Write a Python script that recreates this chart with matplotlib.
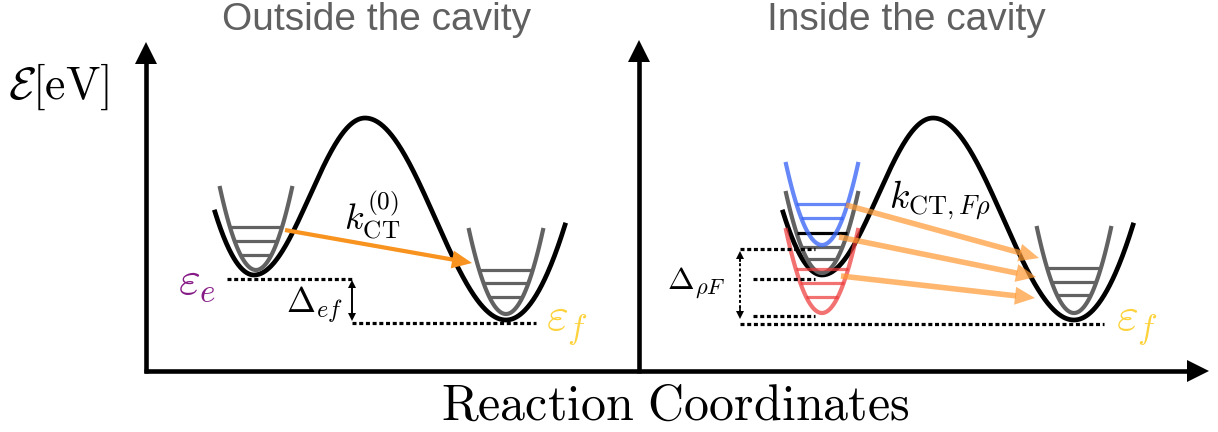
import numpy as np
import matplotlib
matplotlib.use('Agg')
import matplotlib.pyplot as plt
from matplotlib.patches import FancyArrowPatch, Polygon

plt.rcParams['mathtext.fontset'] = 'cm'

W, H = 1218, 432
PT = 0.72  # points per pixel at dpi 100

# turning points of the ground-state double well (x, y in px, y down)
pes_x = [215, 254, 365, 506, 565]
pes_y = [212, 275, 118, 320, 225]
cavity_shift = 568

# harmonic wells outside the cavity: centre, bottom, half width, depth
well_e = (256, 270, 36, 82)
well_e_levels = [227, 241, 255]
well_f = (506, 314, 37, 84)
well_f_levels = [270, 283, 297]

# polariton-shifted wells inside the cavity
well_up = (822, 245, 36, 81)
well_up_levels = [204, 218]
well_mid = (822, 273, 36, 80)
well_mid_levels = [233, 247, 259]
well_lp = (822, 313, 36, 83)
well_lp_levels = [269, 283, 297]
well_f2 = (1074, 313, 37, 85)
well_f2_levels = [268, 282, 295]

# rate arrows inside the cavity: start -> tip
rate_starts = [(846, 205), (839, 237), (841, 276)]
rate_tips = [(1039, 258), (1036, 277), (1035, 298)]

GREY = '#626262'
ORANGE = '#f7931e'


def pes(xs, ys, n=500):
    x = np.linspace(xs[0], xs[-1], n)
    y = np.empty_like(x)
    kl = (ys[1] - ys[0]) / (xs[1] - xs[0]) ** 2
    kr = (ys[3] - ys[4]) / (xs[4] - xs[3]) ** 2
    for i, xi in enumerate(x):
        if xi <= xs[1]:
            y[i] = ys[1] - kl * (xi - xs[1]) ** 2
        elif xi >= xs[3]:
            y[i] = ys[3] - kr * (xi - xs[3]) ** 2
        else:
            j = 1 if xi < xs[2] else 2
            t = (xi - xs[j]) / (xs[j + 1] - xs[j])
            y[i] = ys[j] + (ys[j + 1] - ys[j]) * (1 - np.cos(np.pi * t)) / 2
    return x, y


def well(ax, w, levels, color, alpha=1.0, z=3, level_colors=None):
    x0, y0, hw, depth = w
    x = np.linspace(x0 - hw, x0 + hw, 120)
    y = y0 - depth * ((x - x0) / hw) ** 2
    ax.plot(x, y, color=color, lw=3.0, alpha=alpha, zorder=z)
    for i, lv in enumerate(levels):
        half = hw * np.sqrt((y0 - lv) / depth)
        c = color if level_colors is None else level_colors[i]
        ax.plot([x0 - half, x0 + half], [lv, lv], color=c, lw=2.3,
                alpha=alpha, zorder=z, solid_capstyle='butt')


def arrow(ax, p0, p1, color='k', lw=3.0, hl=20, hw=10, alpha=1.0, z=5):
    # shaft stops at the head base so translucent arrows stay even
    p0, p1 = np.array(p0, float), np.array(p1, float)
    d = p1 - p0
    u = d / np.hypot(*d)
    n = np.array([-u[1], u[0]])
    base = p1 - u * hl
    ax.plot([p0[0], base[0] + u[0]], [p0[1], base[1] + u[1]], color=color,
            lw=lw, alpha=alpha, zorder=z, solid_capstyle='butt')
    head = Polygon([p1, base + n * hw, base - n * hw], closed=True,
                   facecolor=color, edgecolor='none', alpha=alpha, zorder=z)
    ax.add_patch(head)


def dotted(ax, xs, ys):
    ax.plot(xs, ys, color='k', lw=2.3, ls=(0, (1.25, 0.85)), zorder=4)


fig = plt.figure(figsize=(W / 100, H / 100), dpi=100)
ax = fig.add_axes([0, 0, 1, 1])
ax.set_xlim(0, W)
ax.set_ylim(H, 0)
ax.axis('off')

# axes
arrow(ax, (146, 373), (146, 42), lw=3.3, hl=22, hw=11)
arrow(ax, (639, 373), (639, 40), lw=3.3, hl=22, hw=11)
arrow(ax, (144, 371), (1209, 371), lw=3.3, hl=22, hw=11)

# potential energy surfaces
x, y = pes(pes_x, pes_y)
ax.plot(x, y, color='k', lw=3.4, zorder=2)
ax.plot(x + cavity_shift, y, color='k', lw=3.4, zorder=2)

# outside the cavity
well(ax, well_e, well_e_levels, GREY)
well(ax, well_f, well_f_levels, GREY)
arrow(ax, (285, 230), (472, 263), color=ORANGE, lw=3.0, hl=20, hw=9)
dotted(ax, [227, 353], [279, 279])
dotted(ax, [352, 536], [323, 323])
ax.plot([352, 352], [288, 314], color='k', lw=1.2, zorder=5)
arrow(ax, (352, 300), (352, 321), lw=1.2, hl=8, hw=4)
arrow(ax, (352, 300), (352, 280), lw=1.2, hl=8, hw=4)

ax.text(372, 216, r'$k_{\rm CT}^{(0)}$', fontsize=26, ha='center', va='center')
ax.text(315, 305, r'$\Delta_{ef}$', fontsize=25, ha='center', va='center')
ax.text(197, 281, r'$\varepsilon_e$', fontsize=34, ha='center', va='center',
        color='#861a86')
ax.text(567, 325, r'$\varepsilon_f$', fontsize=34, ha='center', va='center',
        color='#fdd23a')

# inside the cavity
well(ax, well_mid, well_mid_levels, GREY, level_colors=['k', GREY, GREY])
well(ax, well_up, well_up_levels, '#3a66f5', alpha=0.78, z=4)
well(ax, well_lp, well_lp_levels, '#ee3a3a', alpha=0.72, z=4)
well(ax, well_f2, well_f2_levels, GREY)
for s, t in zip(rate_starts, rate_tips):
    arrow(ax, s, t, color='#ff9933', lw=4.0, hl=20, hw=9, alpha=0.7)

dotted(ax, [740, 815], [249, 249])
dotted(ax, [753, 815], [279, 279])
dotted(ax, [753, 815], [316, 316])
dotted(ax, [740, 1104], [324, 324])
ax.plot([740, 740], [258, 312], color='k', lw=1.4, ls=(0, (1.5, 1.2)), zorder=5)
arrow(ax, (740, 262), (740, 251), lw=1.2, hl=8, hw=4)
arrow(ax, (740, 308), (740, 319), lw=1.2, hl=8, hw=4)

ax.text(940, 200, r'$k_{{\rm CT},F\rho}$', fontsize=27, ha='center', va='center')
ax.text(696, 283, r'$\Delta_{\rho F}$', fontsize=23, ha='center', va='center')
ax.text(1137, 326, r'$\varepsilon_f$', fontsize=34, ha='center', va='center',
        color='#fdd23a')

# labels
ax.text(377, 30, 'Outside the cavity', fontsize=28, ha='center', va='baseline',
        color='#606060', family='Liberation Sans')
ax.text(906, 30, 'Inside the cavity', fontsize=28, ha='center', va='baseline',
        color='#606060', family='Liberation Sans')
ax.text(8, 87, r'$\mathcal{E}[\mathrm{eV}]$', fontsize=33, ha='left', va='center')
ax.text(675, 420, r'$\mathrm{Reaction\ Coordinates}$', fontsize=36,
        ha='center', va='baseline')

fig.savefig('out.png', dpi=100)
